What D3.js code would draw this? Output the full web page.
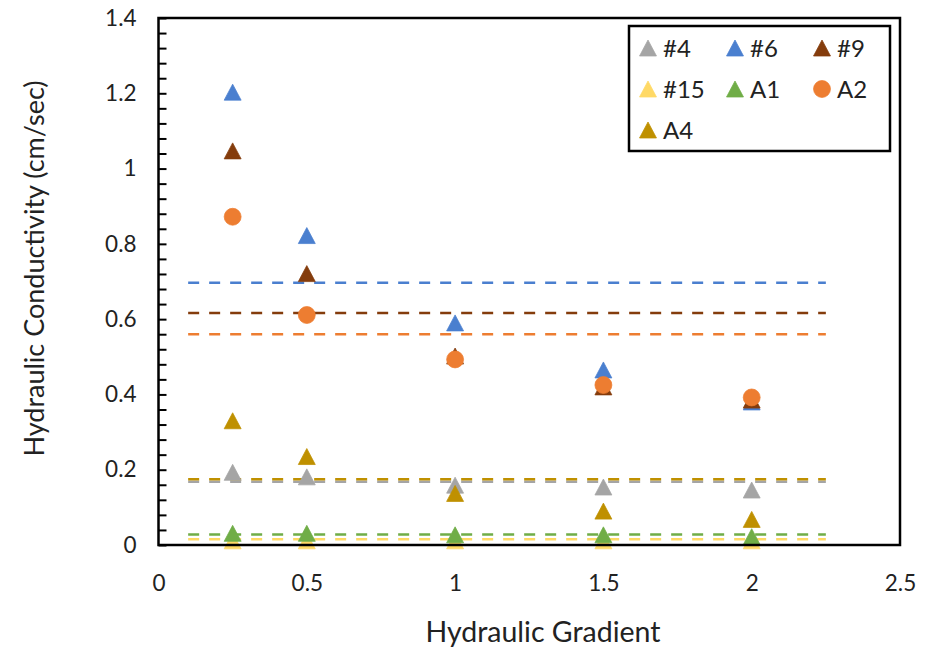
<!DOCTYPE html>
<html>
<head>
<meta charset="utf-8">
<script src="https://cdn.jsdelivr.net/npm/d3@7"></script>
<style>
  body { margin: 0; background: #fff; }
  svg text { font-family: Lato, "Open Sans", sans-serif; fill: #222; }
</style>
</head>
<body>
<svg width="930" height="650"></svg>
<script>
// hydraulic gradient values tested
var gradients = [0.25, 0.5, 1, 1.5, 2];

// series names, in legend / drawing order
var seriesNames = ['#4', '#6', '#9', '#15', 'A1', 'A2', 'A4'];

// hydraulic conductivity (cm/sec)
var k4  = [0.193, 0.181, 0.159, 0.154, 0.146];
var k6  = [1.203, 0.822, 0.590, 0.465, 0.380];
var k9  = [1.047, 0.721, 0.502, 0.420, 0.385];
var k15 = [0.011, 0.011, 0.011, 0.011, 0.011];
var kA1 = [0.031, 0.031, 0.027, 0.027, 0.022];
var kA2 = [0.872, 0.611, 0.493, 0.425, 0.392];
var kA4 = [0.330, 0.235, 0.137, 0.090, 0.068];

// average lines (dashed), same order as seriesNames
var averages = [0.168, 0.697, 0.616, 0.015, 0.028, 0.560, 0.175];
var avgRange = [0.1, 2.25];

var xTicks = [0, 0.5, 1, 1.5, 2, 2.5];
var yTicks = [0, 0.2, 0.4, 0.6, 0.8, 1, 1.2, 1.4];

var colors = ['#a5a5a5', '#4a7fcf', '#843c0c', '#ffd966', '#70ad47', '#ed7d31', '#bf9000'];
var shapes = ['tri', 'tri', 'tri', 'tri', 'tri', 'circle', 'tri'];
var values = [k4, k6, k9, k15, kA1, kA2, kA4];

var svg = d3.select('svg');
var margin = {left: 158.5, right: 30, top: 18, bottom: 105};
var width = +svg.attr('width');
var height = +svg.attr('height');

var xScale = d3.scaleLinear().domain([0, 2.5]).range([margin.left, width - margin.right]);
var yScale = d3.scaleLinear().domain([0, 1.4]).range([height - margin.bottom, margin.top]);

// Excel style triangle marker, centred on its bounding box
var triangle = {
    draw: function(ctx, size) {
        var r = Math.sqrt(size) / 2;
        ctx.moveTo(0, -r);
        ctx.lineTo(r * 1.06, r);
        ctx.lineTo(-r * 1.06, r);
        ctx.closePath();
    }
};
function markerPath(shape) {
    if (shape === 'circle') return d3.symbol().type(d3.symbolCircle).size(225)();
    return d3.symbol().type(triangle).size(256)();
}

// dashed average lines
svg.append('g').attr('class', 'averages')
    .selectAll('line')
    .data(averages)
    .enter()
    .append('line')
    .attr('x1', xScale(avgRange[0]))
    .attr('x2', xScale(avgRange[1]))
    .attr('y1', function(d) { return yScale(d); })
    .attr('y2', function(d) { return yScale(d); })
    .attr('stroke', function(d, i) { return colors[i]; })
    .attr('stroke-width', 2.5)
    .attr('stroke-dasharray', '11,10');

// points for each series
var seriesG = svg.append('g').attr('class', 'series')
    .selectAll('g')
    .data(seriesNames)
    .enter()
    .append('g');

seriesG.selectAll('path')
    .data(function(d, i) {
        return values[i].map(function(v, j) { return {x: gradients[j], y: v, s: i}; });
    })
    .enter()
    .append('path')
    .attr('d', function(d) { return markerPath(shapes[d.s]); })
    .attr('transform', function(d) { return 'translate(' + xScale(d.x) + ',' + yScale(d.y) + ')'; })
    .attr('fill', function(d) { return colors[d.s]; })
    .attr('stroke', function(d) { return colors[d.s]; })
    .attr('stroke-width', 0.75);

// y axis: labels, then inner minor ticks
var yAxis = svg.append('g')
    .attr('transform', 'translate(' + margin.left + ',0)')
    .call(d3.axisLeft(yScale).tickValues(yTicks).tickFormat(d3.format('~g')).tickSize(0).tickPadding(22));
yAxis.select('.domain').remove();
yAxis.selectAll('text').style('font-size', '22.5px');

var minorTicks = d3.range(0, 1.4001, 0.04);
svg.append('g')
    .attr('transform', 'translate(' + margin.left + ',0)')
    .call(d3.axisLeft(yScale).tickValues(minorTicks).tickFormat('').tickSize(-8))
    .call(function(g) { g.select('.domain').remove(); })
    .selectAll('line').attr('stroke', '#000').attr('stroke-width', 2);

var xAxis = svg.append('g')
    .attr('transform', 'translate(0,' + (height - margin.bottom) + ')')
    .call(d3.axisBottom(xScale).tickValues(xTicks).tickFormat(d3.format('~g')).tickSize(0).tickPadding(30));
xAxis.select('.domain').remove();
xAxis.selectAll('text').style('font-size', '22.5px');

// plot area frame
svg.append('rect')
    .attr('x', xScale(0))
    .attr('y', yScale(1.4))
    .attr('width', xScale(2.5) - xScale(0))
    .attr('height', yScale(0) - yScale(1.4))
    .attr('fill', 'none')
    .attr('stroke', '#000')
    .attr('stroke-width', 2.5);

// axis titles
svg.append('text')
    .attr('x', 543)
    .attr('y', 642)
    .attr('text-anchor', 'middle')
    .style('font-size', '28.5px')
    .text('Hydraulic Gradient');

svg.append('text')
    .attr('transform', 'translate(44,' + ((yScale(0) + yScale(1.4)) / 2 - 13) + ') rotate(-90)')
    .attr('text-anchor', 'middle')
    .style('font-size', '27px')
    .text('Hydraulic Conductivity (cm/sec)');

// legend
var legend = svg.append('g').attr('class', 'legend');
legend.append('rect')
    .attr('x', 629).attr('y', 26)
    .attr('width', 261).attr('height', 125)
    .attr('fill', '#fff')
    .attr('stroke', '#000')
    .attr('stroke-width', 2.5);

var legendItem = legend.selectAll('.item')
    .data(seriesNames)
    .enter()
    .append('g')
    .attr('class', 'item')
    .attr('transform', function(d, i) {
        return 'translate(' + (648 + (i % 3) * 87) + ',' + (48 + Math.floor(i / 3) * 41) + ')';
    });

legendItem.append('path')
    .attr('d', function(d, i) { return markerPath(shapes[i]); })
    .attr('fill', function(d, i) { return colors[i]; })
    .attr('stroke', function(d, i) { return colors[i]; })
    .attr('stroke-width', 0.75);

legendItem.append('text')
    .attr('x', 15)
    .attr('dy', '0.36em')
    .style('font-size', '24px')
    .text(function(d) { return d; });
</script>
</body>
</html>
